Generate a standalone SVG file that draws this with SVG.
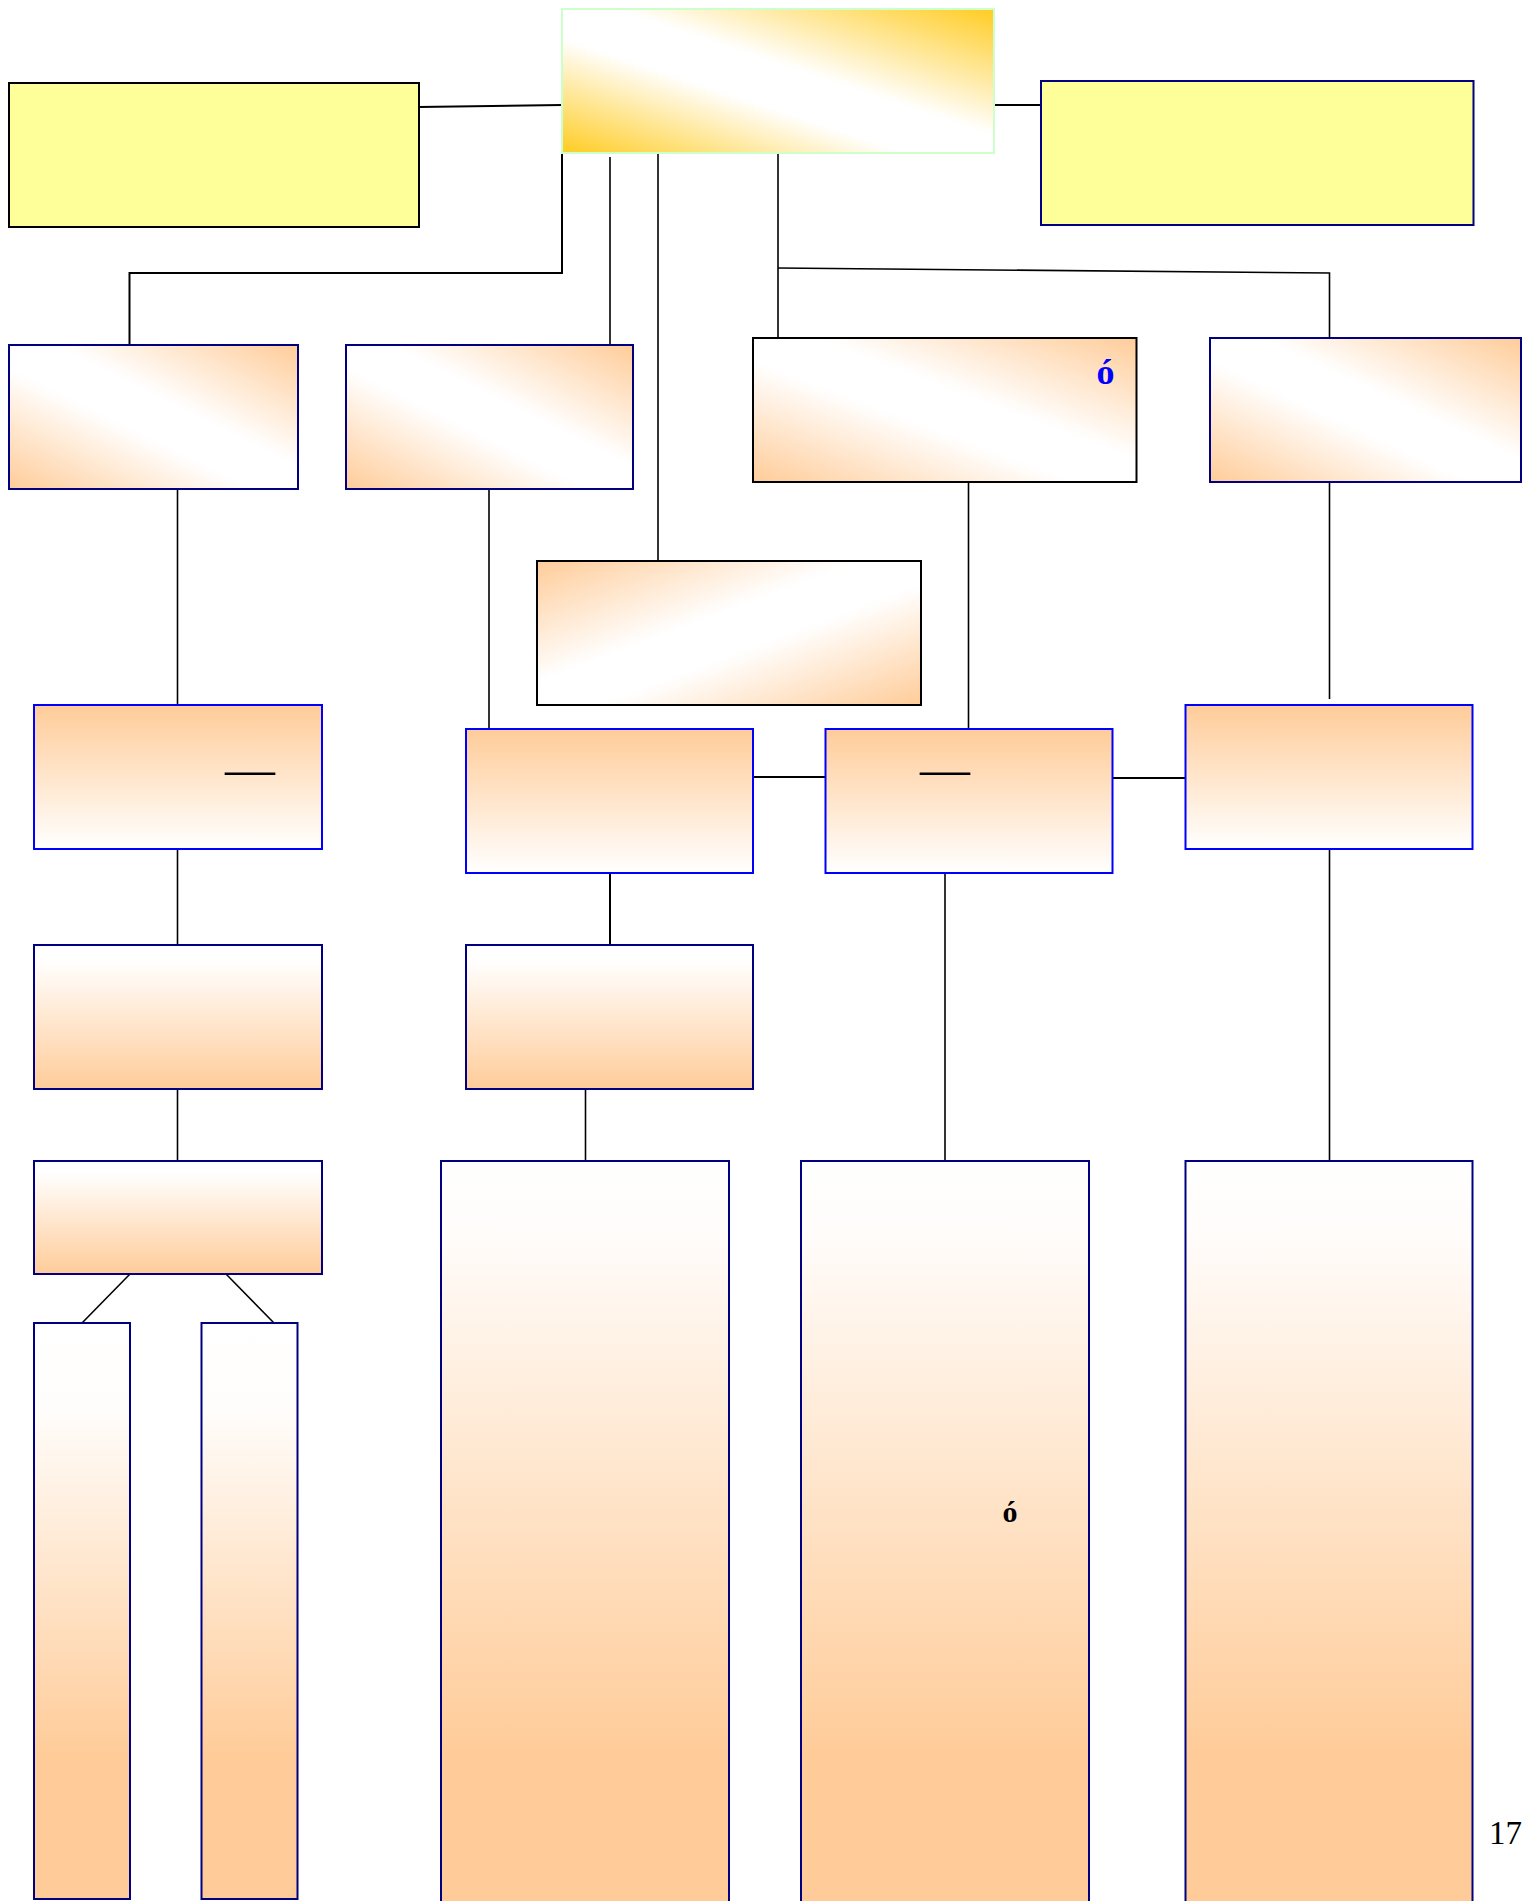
<svg xmlns="http://www.w3.org/2000/svg" width="1539" height="1901" viewBox="0 0 1539 1901">
<style>
.nb{stroke:#000080;stroke-width:2}
.bb{stroke:#0000FF;stroke-width:2}
.kb{stroke:#000000;stroke-width:2}
.yel{fill:#FFFF99}
.con{fill:none;stroke:#000000;stroke-width:1.6}
.t{font-family:"Liberation Serif","Times New Roman",serif}
</style>
<defs>
<linearGradient id="gGold" x1="0" y1="1" x2="1" y2="0">
<stop offset="0" stop-color="#FFCC22"/>
<stop offset="0.4" stop-color="#FFFFFF"/>
<stop offset="0.56" stop-color="#FFFFFF"/>
<stop offset="1" stop-color="#FFCC22"/>
</linearGradient>
<linearGradient id="gDiagA" x1="0" y1="1" x2="1" y2="0">
<stop offset="0" stop-color="#FFCC99"/>
<stop offset="0.42" stop-color="#FFFFFF"/>
<stop offset="0.58" stop-color="#FFFFFF"/>
<stop offset="1" stop-color="#FFCC99"/>
</linearGradient>
<linearGradient id="gDiagB" x1="0" y1="0" x2="1" y2="1">
<stop offset="0" stop-color="#FFCC99"/>
<stop offset="0.42" stop-color="#FFFFFF"/>
<stop offset="0.58" stop-color="#FFFFFF"/>
<stop offset="1" stop-color="#FFCC99"/>
</linearGradient>
<linearGradient id="gDown" x1="0" y1="0" x2="0" y2="1">
<stop offset="0" stop-color="#FFCC99"/>
<stop offset="1" stop-color="#FFFFFF"/>
</linearGradient>
<linearGradient id="gUp" x1="0" y1="0" x2="0" y2="1">
<stop offset="0" stop-color="#FFFFFF"/>
<stop offset="0.1" stop-color="#FFFFFF"/>
<stop offset="1" stop-color="#FFCC99"/>
</linearGradient>
<linearGradient id="gTall" gradientUnits="userSpaceOnUse" x1="0" y1="1161" x2="0" y2="1901">
<stop offset="0" stop-color="#FFFFFF"/>
<stop offset="0.1" stop-color="#FFFCFA"/>
<stop offset="0.8" stop-color="#FFCC99"/>
<stop offset="1" stop-color="#FFCC99"/>
</linearGradient>
<linearGradient id="gThin" x1="0" y1="0" x2="0" y2="1">
<stop offset="0" stop-color="#FFFFFF"/>
<stop offset="0.15" stop-color="#FFFDFB"/>
<stop offset="0.75" stop-color="#FFCC99"/>
<stop offset="1" stop-color="#FFCC99"/>
</linearGradient>
</defs>

<g id="connectors">
<line class="con" x1="419" y1="107" x2="562" y2="105" style="stroke-width:2"/>
<line class="con" x1="994" y1="105" x2="1041" y2="105" style="stroke-width:2"/>
<polyline class="con" points="562,153 562,273 129.5,273 129.5,345" style="stroke-width:2"/>
<line class="con" x1="610" y1="157" x2="610" y2="350"/>
<line class="con" x1="658" y1="153" x2="658" y2="561"/>
<line class="con" x1="778" y1="152" x2="778" y2="338"/>
<polyline class="con" points="778,268 1329.5,273 1329.5,338"/>
<line class="con" x1="177.5" y1="489" x2="177.5" y2="705"/>
<line class="con" x1="489" y1="489" x2="489" y2="729"/>
<line class="con" x1="968.5" y1="482" x2="968.5" y2="729"/>
<line class="con" x1="1329.5" y1="482" x2="1329.5" y2="699"/>
<line class="con" x1="753" y1="777" x2="825.5" y2="777" style="stroke-width:2"/>
<line class="con" x1="1112.5" y1="778" x2="1185.5" y2="778" style="stroke-width:2"/>
<line class="con" x1="177.5" y1="849" x2="177.5" y2="945"/>
<line class="con" x1="610" y1="873" x2="610" y2="945" style="stroke-width:2"/>
<line class="con" x1="945" y1="873" x2="945" y2="1161"/>
<line class="con" x1="1329.5" y1="849" x2="1329.5" y2="1161"/>
<line class="con" x1="177.5" y1="1089" x2="177.5" y2="1161"/>
<line class="con" x1="585.5" y1="1089" x2="585.5" y2="1161"/>
<line class="con" x1="130" y1="1274" x2="82" y2="1323"/>
<line class="con" x1="226" y1="1274" x2="274" y2="1323"/>
</g>

<g id="n-top"><rect x="562" y="9" width="432" height="144" fill="url(#gGold)" stroke="#CCFFCC" stroke-width="2"/></g>
<g id="n-left"><rect class="yel kb" x="9" y="83" width="410" height="144"/></g>
<g id="n-right"><rect class="yel nb" x="1041" y="81" width="432.5" height="144"/></g>

<g id="n-b1"><rect class="nb" x="9" y="345" width="289" height="144" fill="url(#gDiagA)"/></g>
<g id="n-b2"><rect class="nb" x="346" y="345" width="287" height="144" fill="url(#gDiagA)"/></g>
<g id="n-b3"><rect class="kb" x="753" y="338" width="383.5" height="144" fill="url(#gDiagA)"/>
<text class="t" x="1105.5" y="384" font-size="36" font-weight="bold" fill="#0000FF" text-anchor="middle">ó</text></g>
<g id="n-b4"><rect class="nb" x="1210" y="338" width="311" height="144" fill="url(#gDiagA)"/></g>

<g id="n-mid"><rect class="kb" x="537" y="561" width="384" height="144" fill="url(#gDiagB)"/></g>

<g id="n-c1"><rect class="bb" x="34" y="705" width="288" height="144" fill="url(#gDown)"/>
<text class="t" x="225" y="786" font-size="50" fill="#000000">—</text></g>
<g id="n-c2"><rect class="bb" x="466" y="729" width="287" height="144" fill="url(#gDown)"/></g>
<g id="n-c3"><rect class="bb" x="825.5" y="729" width="287" height="144" fill="url(#gDown)"/>
<text class="t" x="920" y="786" font-size="50" fill="#000000">—</text></g>
<g id="n-c4"><rect class="bb" x="1185.5" y="705" width="287" height="144" fill="url(#gDown)"/></g>

<g id="n-d1"><rect class="nb" x="34" y="945" width="288" height="144" fill="url(#gUp)"/></g>
<g id="n-d2"><rect class="nb" x="466" y="945" width="287" height="144" fill="url(#gUp)"/></g>
<g id="n-e1"><rect class="nb" x="34" y="1161" width="288" height="113" fill="url(#gUp)"/></g>

<g id="n-t2"><rect class="nb" x="441" y="1161" width="288" height="800" fill="url(#gTall)"/></g>
<g id="n-t3"><rect class="nb" x="801" y="1161" width="288" height="800" fill="url(#gTall)"/>
<text class="t" x="1010" y="1521.5" font-size="30" font-weight="bold" fill="#000000" text-anchor="middle">ó</text></g>
<g id="n-t4"><rect class="nb" x="1185.5" y="1161" width="287" height="800" fill="url(#gTall)"/></g>

<g id="n-f1"><rect class="nb" x="34" y="1323" width="96" height="576" fill="url(#gThin)"/></g>
<g id="n-f2"><rect class="nb" x="201.5" y="1323" width="96" height="576" fill="url(#gThin)"/></g>

<text class="t" x="1489" y="1844" font-size="33" fill="#000000">17</text>
</svg>
